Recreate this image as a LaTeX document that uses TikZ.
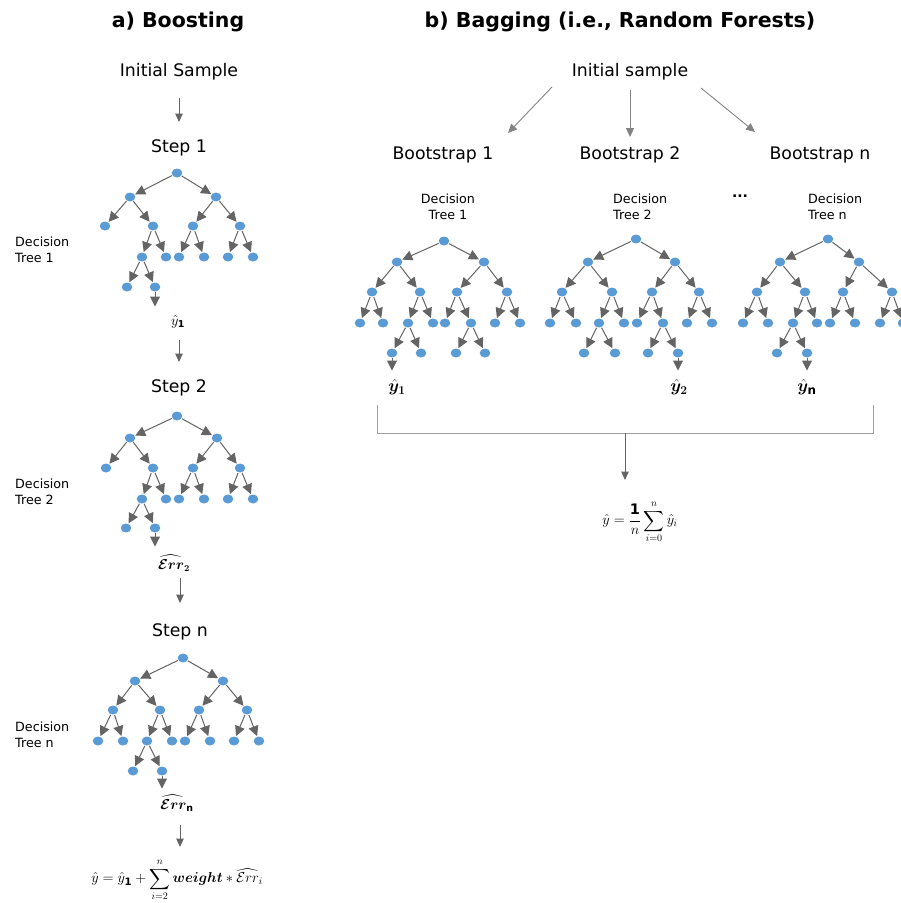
\documentclass[tikz,border=0pt]{standalone}
\usepackage{amsmath}
\usepackage{bm}
\usepackage{fontspec}
\setmainfont{DejaVu Sans}
\usetikzlibrary{arrows.meta,shapes.geometric}
\definecolor{nodeblue}{RGB}{91,155,213}
\definecolor{edgegray}{RGB}{100,100,100}
\definecolor{flowgray}{RGB}{100,100,100}
\definecolor{brgray}{RGB}{160,160,160}
\begin{document}
\begin{tikzpicture}[x=1pt,y=-1pt,
  title/.style={inner sep=0pt, font=\bfseries\fontsize{20.5}{24}\selectfont},
  lab/.style={inner sep=0pt, font=\fontsize{17.3}{21}\selectfont},
  dec/.style={inner sep=0pt, font=\fontsize{12.7}{16.5}\selectfont},
  mth/.style={inner sep=0pt, font=\fontsize{13.5}{16}\selectfont},
  bmth/.style={inner sep=0pt, font=\fontsize{17}{20}\selectfont},
  leaf/.style={ellipse, fill=nodeblue, inner sep=0pt, minimum width=10.5pt, minimum height=9pt},
  tedge/.style={draw=edgegray, line width=1pt, -{Triangle[width=10pt,length=10pt]}, shorten >=0.5pt, shorten <=0.5pt},
  flow/.style={draw=flowgray, line width=1pt, -{Triangle[width=7.5pt,length=8.5pt]}},
  thinarrow/.style={draw=flowgray!80, line width=0.9pt, -{Triangle[width=8pt,length=9pt]}},
  bracket/.style={draw=brgray, line width=1pt}
]
\fill[white] (0,0) rectangle (901,903);
\useasboundingbox (0,0) rectangle (901,903);

% ---------- titles ----------
\node[title] (ta) at (178,22) {a) Boosting};
\node[title] (tb) at (620,22) {b) Bagging (i.e., Random Forests)};

% ---------- boosting ----------
\node[lab] (init) at (179,72) {Initial Sample};
\node[lab] (s1) at (179,148) {Step 1};
\node[lab] (s2) at (179,388) {Step 2};
\node[lab] (sn) at (180,632) {Step n};

\node[dec, anchor=west, align=left] (dA) at (15,250) {Decision\\Tree 1};
\node[dec, anchor=west, align=left] (dB) at (15,492) {Decision\\Tree 2};
\node[dec, anchor=west, align=left] (dC) at (15,735) {Decision\\Tree n};

\foreach \n/\x/\y in {A0/177/173, A1/130/197, A2/216/197,
  A3/105/226, A4/153/226, A5/193/226, A6/240/226,
  A7/142/257, A8/166/257, A9/179/257, A10/204/257, A11/228/257, A12/253/257,
  A13/127/287, A14/155/287}
  \node[leaf] (\n) at (\x,\y) {};
\foreach \a/\b in {A0/A1, A0/A2, A1/A3, A1/A4, A2/A5, A2/A6, A4/A7, A4/A8,
  A5/A9, A5/A10, A6/A11, A6/A12, A7/A13, A7/A14}
  \draw[tedge] (\a) -- (\b);

\foreach \n/\x/\y in {B0/177/416, B1/130/438, B2/217/438,
  B3/106/468, B4/153/468, B5/193/468, B6/240/468,
  B7/142/499, B8/166/499, B9/179/499, B10/204/499, B11/228/499, B12/253/499,
  B13/126/528, B14/155/528}
  \node[leaf] (\n) at (\x,\y) {};
\foreach \a/\b in {B0/B1, B0/B2, B1/B3, B1/B4, B2/B5, B2/B6, B4/B7, B4/B8,
  B5/B9, B5/B10, B6/B11, B6/B12, B7/B13, B7/B14}
  \draw[tedge] (\a) -- (\b);

\foreach \n/\x/\y in {C0/183/658, C1/135/681, C2/223/681,
  C3/113/710, C4/160/710, C5/199/710, C6/247/710,
  C7/98/741, C8/123/741, C9/147/741, C10/172/741, C11/185/741, C12/210/741,
  C13/234/741, C14/259/741, C15/133/771, C16/162/771}
  \node[leaf] (\n) at (\x,\y) {};
\foreach \a/\b in {C0/C1, C0/C2, C1/C3, C1/C4, C2/C5, C2/C6, C3/C7, C3/C8,
  C4/C9, C4/C10, C5/C11, C5/C12, C6/C13, C6/C14, C9/C15, C9/C16}
  \draw[tedge] (\a) -- (\b);

\coordinate (Aout) at (155,307);
\coordinate (Bout) at (155,547);
\coordinate (Cout) at (162,789);
\draw[tedge] (A14) -- (Aout);
\draw[tedge] (B14) -- (Bout);
\draw[tedge] (C16) -- (Cout);

\node[mth] (yh1) at (178,322) {$\hat{y}_{\mathbf{1}}$};
\node[mth] (err2) at (174,563) {$\bm{\widehat{\mathcal{E}rr}_{2}}$};
\node[mth] (errn) at (177,803) {$\bm{\widehat{\mathcal{E}rr}}_{\mathbf{n}}$};
\node[mth, font=\fontsize{14.5}{17}\selectfont] (fA) at (177,880) {$\displaystyle \hat{y} = \hat{y}_{\mathbf{1}} + \sum_{i=2}^{n} \bm{weight} * \widehat{\mathcal{E}rr}_{i}$};

\draw[flow, shorten <=26pt, shorten >=26pt] (init.center) -- (s1.center);
\draw[flow, shorten <=18pt, shorten >=26pt] (yh1.center -| s2.center) -- (s2.center);
\draw[flow, shorten <=15pt, shorten >=29pt] (err2.center -| sn.center) -- (sn.center);
\coordinate (fAt) at (180,847);
\draw[flow, shorten <=22pt] (errn.center -| fAt) -- (fAt);

% ---------- bagging ----------
\node[lab] (initB) at (630,72) {Initial sample};
\node[lab] (bs1) at (443,155) {Bootstrap 1};
\node[lab] (bs2) at (630,155) {Bootstrap 2};
\node[lab] (bsn) at (820,155) {Bootstrap n};

\coordinate (a1s) at (552,87);
\coordinate (a1e) at (508,133);
\coordinate (a3s) at (701,88);
\coordinate (a3e) at (755,132);
\draw[thinarrow] (a1s) -- (a1e);
\draw[thinarrow, shorten <=18pt, shorten >=18pt] (initB.center) -- (bs2.center);
\draw[thinarrow] (a3s) -- (a3e);

\node[dec, align=center] (dD) at (448,207) {Decision\\Tree 1};
\node[dec, anchor=west, align=left] (dE) at (613,207) {Decision\\Tree 2};
\node[dec, anchor=west, align=left] (dF) at (808,207) {Decision\\Tree n};
\node[inner sep=0pt, font=\bfseries\fontsize{14}{16}\selectfont] (dots) at (740,196) {...};

\foreach \n/\x/\y in {D0/444/241, D1/397/262, D2/484/262,
  D3/372/292, D4/420/292, D5/457/292, D6/507/292,
  D7/360/323, D8/383/323, D9/408/323, D10/433/323, D11/445/323, D12/471/323,
  D13/495/323, D14/520/323, D15/392/353, D16/421/353, D17/456/353, D18/485/353}
  \node[leaf] (\n) at (\x,\y) {};
\foreach \a/\b in {D0/D1, D0/D2, D1/D3, D1/D4, D2/D5, D2/D6, D3/D7, D3/D8,
  D4/D9, D4/D10, D5/D11, D5/D12, D6/D13, D6/D14, D9/D15, D9/D16, D12/D17, D12/D18}
  \draw[tedge] (\a) -- (\b);

\foreach \n/\x/\y in {E0/636/239, E1/588/262, E2/675/262,
  E3/562/292, E4/612/292, E5/652/292, E6/699/292,
  E7/550/323, E8/576/323, E9/599/323, E10/624/323, E11/637/323, E12/663/323,
  E13/687/323, E14/712/323, E15/584/353, E16/615/353, E17/648/353, E18/678/353}
  \node[leaf] (\n) at (\x,\y) {};
\foreach \a/\b in {E0/E1, E0/E2, E1/E3, E1/E4, E2/E5, E2/E6, E3/E7, E3/E8,
  E4/E9, E4/E10, E5/E11, E5/E12, E6/E13, E6/E14, E9/E15, E9/E16, E12/E17, E12/E18}
  \draw[tedge] (\a) -- (\b);

\foreach \n/\x/\y in {F0/828/239, F1/780/262, F2/859/262,
  F3/757/292, F4/805/292, F5/843/292, F6/892/292,
  F7/743/323, F8/768/323, F9/793/323, F10/817/323, F11/830/323, F12/855/323,
  F13/880/323, F14/903/323, F15/777/353, F16/807/353}
  \node[leaf] (\n) at (\x,\y) {};
\foreach \a/\b in {F0/F1, F0/F2, F1/F3, F1/F4, F2/F5, F2/F6, F3/F7, F3/F8,
  F4/F9, F4/F10, F5/F11, F5/F12, F6/F13, F6/F14, F9/F15, F9/F16}
  \draw[tedge] (\a) -- (\b);

\coordinate (Dout) at (392,371);
\coordinate (Eout) at (678,371);
\coordinate (Fout) at (807,371);
\draw[tedge] (D15) -- (Dout);
\draw[tedge] (E18) -- (Eout);
\draw[tedge] (F16) -- (Fout);

\node[bmth] (yb1) at (397,387) {$\bm{\hat{y}_{1}}$};
\node[bmth] (yb2) at (679,387) {$\bm{\hat{y}_{2}}$};
\node[bmth] (ybn) at (807,387) {$\bm{\hat{y}}_{\mathbf{n}}$};

\coordinate (brl) at (377,405);
\coordinate (brr) at (873,405);
\coordinate (brm) at (625,433);
\coordinate (brd) at (625,480);
\draw[bracket] (brl) -- (brl |- brm) -- (brr |- brm) -- (brr);
\node[mth, font=\fontsize{14.5}{17}\selectfont] (fB) at (640,522) {$\displaystyle \hat{y} = \frac{\mathbf{1}}{n}\sum_{i=0}^{n}\hat{y}_{i}$};
\draw[flow] (brm) -- (brd);
\end{tikzpicture}
\end{document}
